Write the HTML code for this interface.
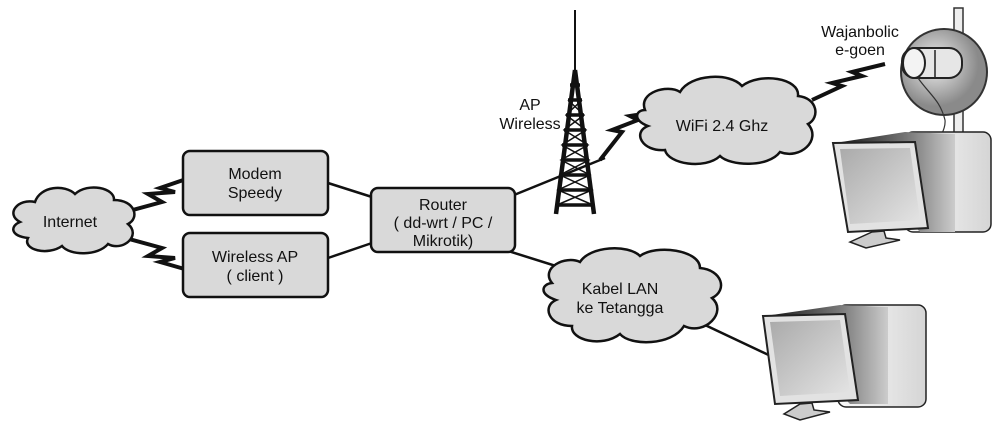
<!DOCTYPE html>
<html><head><style>
body{margin:0;background:#fff}
svg text{font-family:"Liberation Sans",sans-serif;font-size:16px;fill:#111;text-anchor:middle}
</style></head><body>
<svg width="1000" height="430" viewBox="0 0 1000 430" xmlns="http://www.w3.org/2000/svg">
<defs>
<linearGradient id="tw" x1="0" x2="1"><stop offset="0" stop-color="#111"/><stop offset=".6" stop-color="#777"/><stop offset="1" stop-color="#ccc"/></linearGradient>
<linearGradient id="tc" x1="0" x2="1"><stop offset="0" stop-color="#fafafa"/><stop offset="1" stop-color="#d5d5d5"/></linearGradient>
<linearGradient id="scr" x1="0" y1="0" x2="1" y2="1"><stop offset="0" stop-color="#aaa"/><stop offset="1" stop-color="#e4e4e4"/></linearGradient>
<radialGradient id="dish" cx=".4" cy=".4"><stop offset="0" stop-color="#f0f0f0"/><stop offset="1" stop-color="#8a8a8a"/></radialGradient>
</defs>
<g stroke="#111" stroke-width="2.5" fill="none">
<line x1="328" y1="183" x2="372" y2="197"/>
<line x1="328" y1="258" x2="372" y2="243"/>
<line x1="514" y1="195" x2="605" y2="158"/>
<line x1="505" y1="250" x2="575" y2="272"/>
<line x1="705" y1="325" x2="775" y2="358"/>
</g>
<!-- zigzags -->
<g fill="none" stroke="#111" stroke-width="4" stroke-linejoin="miter">
<polyline points="118,214 162,202 148,194 175,192 160,188 195,176"/>
<polyline points="118,236 162,248 148,256 175,258 160,262 195,272"/>
<polyline points="600,160 622,132 612,130 638,120 630,116 656,112"/>
<polyline points="812,100 842,86 832,83 862,76 852,72 885,64"/>
</g>
<!-- clouds -->
<g fill="#d9d9d9" stroke="#111" stroke-width="2.5">
<path d="M20,222 C5,214 18,198 35,202 C40,186 65,184 75,194 C88,182 115,188 114,200 C135,200 140,218 128,224 C142,236 122,252 108,244 C98,256 70,256 62,246 C48,256 22,250 28,238 C10,236 10,226 20,222 Z"/>
<path d="M645,110 C638,92 668,84 680,92 C690,74 730,72 742,86 C760,72 800,78 798,96 C818,98 820,118 808,124 C822,140 800,160 780,152 C768,168 730,166 720,156 C705,170 668,164 665,150 C642,152 632,132 648,126 C632,120 636,110 645,110 Z"/>
<path d="M552,283 C540,268 565,255 580,262 C590,246 628,244 640,256 C656,244 700,250 700,268 C722,270 728,290 712,298 C728,312 705,336 684,326 C672,346 630,346 620,334 C602,348 570,340 572,326 C548,326 542,306 556,300 C538,294 542,284 552,283 Z"/>
</g>
<!-- boxes -->
<g fill="#d9d9d9" stroke="#111" stroke-width="2.5">
<rect x="183" y="151" width="145" height="64" rx="7"/>
<rect x="183" y="233" width="145" height="64" rx="7"/>
<rect x="371" y="188" width="144" height="64" rx="7"/>
</g>
<text x="70" y="227">Internet</text>
<text x="255" y="179">Modem</text><text x="255" y="198">Speedy</text>
<text x="255" y="262">Wireless AP</text><text x="255" y="281">( client )</text>
<text x="443" y="210">Router</text><text x="443" y="228">( dd-wrt / PC /</text><text x="443" y="246">Mikrotik)</text>
<text x="530" y="110">AP</text><text x="530" y="129">Wireless</text>
<text x="722" y="131">WiFi 2.4 Ghz</text>
<text x="620" y="294">Kabel LAN</text><text x="620" y="313">ke Tetangga</text>
<text x="860" y="37">Wajanbolic</text><text x="860" y="55">e-goen</text>
<!-- tower -->
<g stroke="#111" fill="none">
<line x1="575" y1="10" x2="575" y2="78" stroke-width="2"/>
<path d="M575,70 L556,214 M575,70 L594,214" stroke-width="4.5"/>
<path d="M570,85 L580,85 M568,100 L582,100 M566,115 L584,115 M564,130 L586,130 M562,145 L588,145 M561,160 L589,160 M560,175 L590,175 M558,190 L592,190 M557,205 L593,205" stroke-width="3.5"/>
<path d="M568,100 L584,115 L564,130 L588,145 L561,160 L590,175 L558,190 L593,205 M582,100 L566,115 L586,130 L562,145 L589,160 L560,175 L592,190 L557,205" stroke-width="1.5"/>
</g>
<!-- dish -->
<rect x="954" y="8" width="9" height="135" fill="#eee" stroke="#333" stroke-width="1.5"/>
<circle cx="944" cy="72" r="43" fill="url(#dish)" stroke="#333" stroke-width="2"/>
<rect x="902" y="48" width="60" height="30" rx="13" fill="#e6e6e6" stroke="#222" stroke-width="2"/>
<ellipse cx="914" cy="63" rx="11" ry="15" fill="#f3f3f3" stroke="#222" stroke-width="2"/>
<line x1="935" y1="50" x2="935" y2="78" stroke="#222" stroke-width="1.5"/>
<path d="M918,78 C930,95 940,100 945,120 C946,130 940,132 942,140" fill="none" stroke="#333" stroke-width="1.2"/>
<!-- PC1 -->
<g>
<rect x="905" y="132" width="86" height="100" rx="8" fill="url(#tc)" stroke="#222" stroke-width="1.5"/>
<path d="M835,143 L905,132 L955,134 L955,232 L920,232 Z" fill="url(#tw)"/>
<path d="M833,143 L915,142 L928,228 L848,232 Z" fill="#e2e2e2" stroke="#222" stroke-width="2"/>
<path d="M840,149 L910,148 L920,220 L850,224 Z" fill="url(#scr)"/>
<path d="M872,232 L884,231 L886,238 L900,240 L866,248 L850,242 Z" fill="#ccc" stroke="#222" stroke-width="1.5"/>
</g>
<!-- PC2 -->
<g>
<rect x="838" y="305" width="88" height="102" rx="8" fill="url(#tc)" stroke="#222" stroke-width="1.5"/>
<path d="M765,316 L840,305 L888,307 L888,404 L850,404 Z" fill="url(#tw)"/>
<path d="M763,316 L845,314 L858,400 L775,404 Z" fill="#e2e2e2" stroke="#222" stroke-width="2"/>
<path d="M770,322 L840,320 L850,392 L780,396 Z" fill="url(#scr)"/>
<path d="M800,404 L812,403 L814,410 L830,412 L800,420 L784,414 Z" fill="#ccc" stroke="#222" stroke-width="1.5"/>
</g>
</svg>
</body></html>
